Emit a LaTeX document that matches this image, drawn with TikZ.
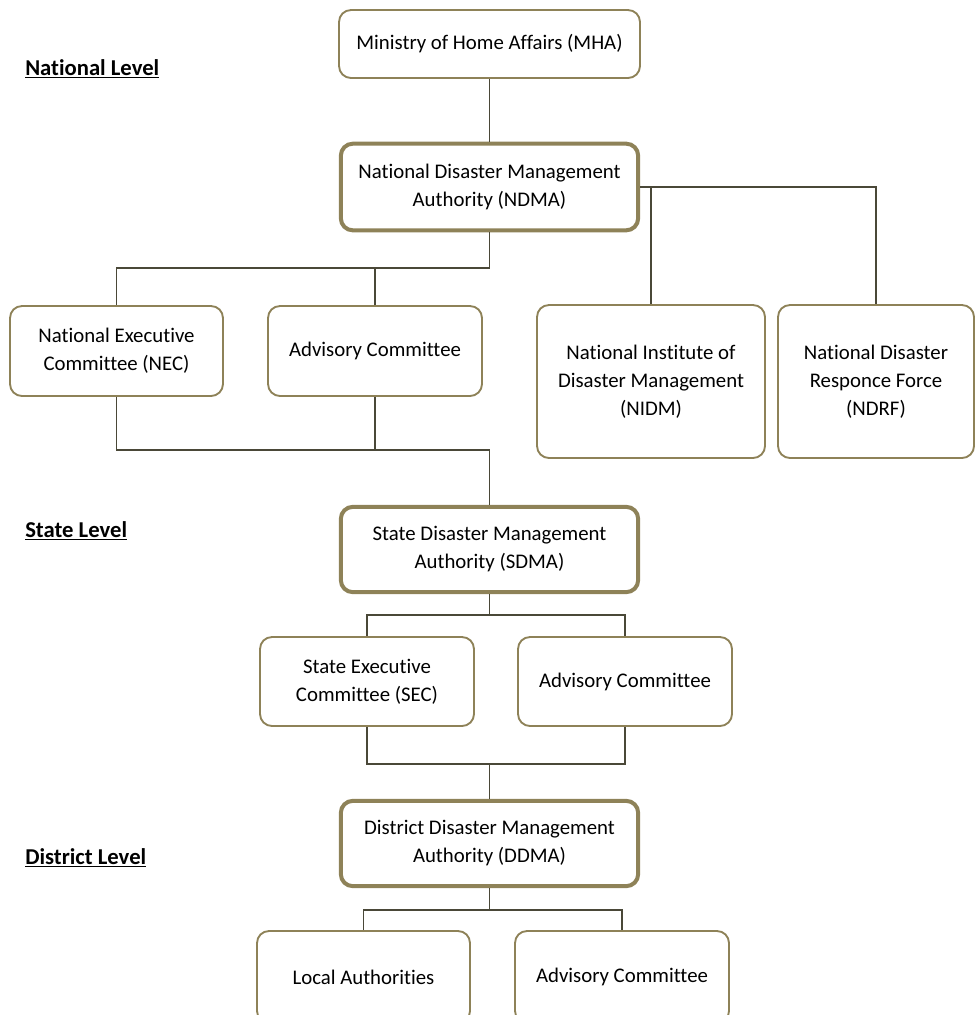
\documentclass[tikz,border=0pt]{standalone}
\usepackage{fontspec}
\setmainfont[Ligatures=NoCommon]{Carlito}
\begin{document}
\begin{tikzpicture}[x=0.75pt,y=-0.75pt,
  box/.style={draw=boxcol, line width=1.4pt, rounded corners=9pt, fill=white, align=center, inner sep=0pt,
    font=\fontsize{15.6pt}{21pt}\selectfont},
  mainbox/.style={box, line width=3pt},
  conn/.style={draw=conncol, line width=1.1pt},
  lvl/.style={anchor=west, inner sep=0pt, font=\fontsize{17pt}{20pt}\selectfont\bfseries}
]
\definecolor{boxcol}{HTML}{8E8258}
\definecolor{conncol}{HTML}{4A4838}
\useasboundingbox (0,0) rectangle (980,1015);

\node[box, minimum width=225.75pt, minimum height=51pt] (MHA) at (489.5,44) {Ministry of Home Affairs (MHA)};
\node[mainbox, minimum width=223pt, minimum height=65pt] (NDMA) at (489.5,187) {National Disaster Management\\Authority (NDMA)};
\node[box, minimum width=159.75pt, minimum height=67.5pt] (NEC) at (116.5,351) {National Executive\\Committee (NEC)};
\node[box, minimum width=160.5pt, minimum height=67.5pt] (AC1) at (375,351) {Advisory Committee};
\node[box, minimum width=171pt, minimum height=114.75pt] (NIDM) at (651,381.5) {National Institute of\\Disaster Management\\(NIDM)};
\node[box, minimum width=147pt, minimum height=114.75pt] (NDRF) at (876,381.5) {National Disaster\\Responce Force\\(NDRF)};
\node[mainbox, minimum width=223pt, minimum height=64pt] (SDMA) at (489.5,549.5) {State Disaster Management\\Authority (SDMA)};
\node[box, minimum width=160.5pt, minimum height=66.75pt] (SEC) at (367,681.5) {State Executive\\Committee (SEC)};
\node[box, minimum width=160.5pt, minimum height=66.75pt] (AC2) at (625,681.5) {Advisory Committee};
\node[mainbox, minimum width=223pt, minimum height=64pt] (DDMA) at (489.5,843.5) {District Disaster Management\\Authority (DDMA)};
\node[box, minimum width=159.75pt, minimum height=69pt] (LA) at (363.5,977) {Local Authorities};
\node[box, minimum width=160.5pt, minimum height=69pt] (AC3) at (622,977) {Advisory Committee};

\node[lvl] (L1) at (25,69) {\underline{National Level}};
\node[lvl] (L2) at (25,531) {\underline{State Level}};
\node[lvl] (L3) at (25,858) {\underline{District Level}};

\coordinate (j1) at (489.5,268);
\coordinate (j2) at (489.5,450);
\coordinate (j3) at (489.5,615);
\coordinate (j4) at (489.5,764);
\coordinate (j5) at (489.5,910);

\path[conn] (MHA.south) -- (NDMA.north);
\path[conn] (NDMA.south) -- (j1) -| (NEC.north);
\path[conn] (AC1.north) -- (AC1.north |- j1);
\path[conn] (NDMA.east) -| (NDRF.north);
\path[conn] (NIDM.north) -- (NIDM.north |- NDMA.east);
\path[conn] (NEC.south) |- (j2) -- (SDMA.north);
\path[conn] (AC1.south) -- (AC1.south |- j2);
\path[conn] (SDMA.south) -- (j3) -| (SEC.north);
\path[conn] (j3) -| (AC2.north);
\path[conn] (SEC.south) |- (j4) -| (AC2.south);
\path[conn] (j4) -- (DDMA.north);
\path[conn] (DDMA.south) -- (j5) -| (LA.north);
\path[conn] (j5) -| (AC3.north);
\end{tikzpicture}
\end{document}
